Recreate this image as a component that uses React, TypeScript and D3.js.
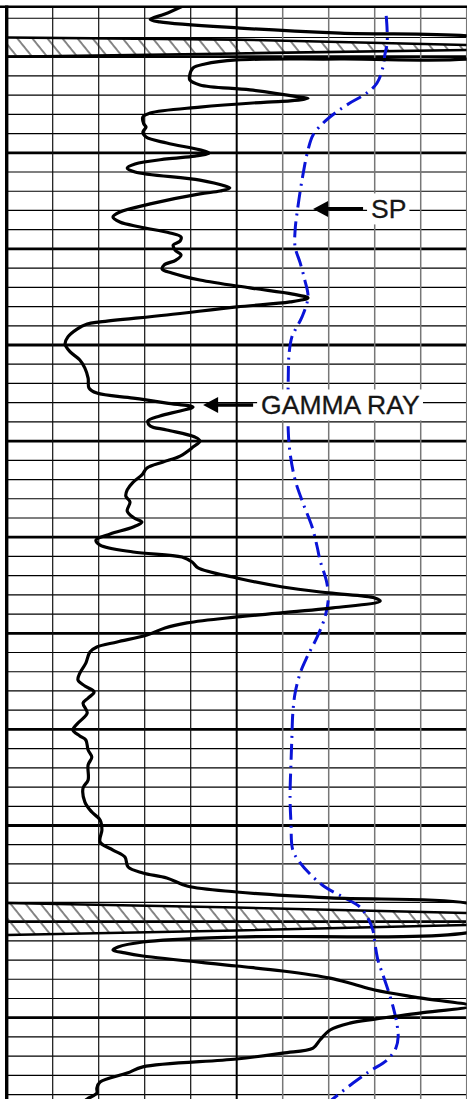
import React from 'react';
import * as d3 from 'd3';

const W = 467;
const H = 1099;

// depth (ft) of grid lines and value grid (0-100 scale, 10 divisions)
const depthTicks = d3.range(4980, 5550, 10);
const valueTicks = d3.range(0, 101, 10);

// Gamma ray curve
const grDepth = [
  4973.6, 4977.8, 4980.6, 4981.9, 4985.1, 4987.7, 4989.8, 4995.0, 5000.7, 5001.2,
  5001.7, 5003.8, 5005.9, 5009.5, 5012.1, 5014.7, 5017.3, 5021.0, 5021.7, 5023.0,
  5023.6, 5026.2, 5029.3, 5031.4, 5035.0, 5036.6, 5039.2, 5041.8, 5044.9, 5048.5,
  5050.1, 5051.7, 5053.2, 5055.8, 5057.9, 5060.0, 5064.2, 5067.3, 5068.3, 5069.9,
  5071.4, 5076.6, 5080.8, 5083.4, 5086.0, 5088.6, 5091.7, 5093.8, 5095.9, 5098.0,
  5100.6, 5103.2, 5105.8, 5108.4, 5110.5, 5112.5, 5116.2, 5120.3, 5123.5, 5125.5,
  5127.6, 5130.2, 5134.4, 5138.0, 5139.1, 5141.7, 5145.8, 5149.5, 5153.6, 5157.8,
  5162.0, 5167.2, 5172.4, 5175.0, 5177.6, 5180.2, 5182.3, 5184.3, 5186.9, 5189.5,
  5192.1, 5194.2, 5197.9, 5199.9, 5203.1, 5207.8, 5210.9, 5214.0, 5217.6, 5221.3,
  5225.4, 5228.6, 5231.7, 5236.4, 5240.0, 5242.1, 5244.7, 5248.3, 5251.5, 5254.1,
  5257.7, 5260.3, 5262.9, 5266.0, 5271.2, 5275.9, 5279.0, 5281.6, 5283.2, 5286.8,
  5291.5, 5294.6, 5297.2, 5300.9, 5304.5, 5307.1, 5309.7, 5315.5, 5320.7, 5324.3,
  5327.4, 5330.5, 5333.7, 5336.3, 5341.5, 5346.7, 5350.3, 5353.4, 5355.5, 5360.7,
  5364.4, 5368.5, 5376.3, 5380.5, 5387.8, 5393.0, 5397.1, 5402.3, 5408.6, 5412.8,
  5416.4, 5421.6, 5424.7, 5427.3, 5431.5, 5434.6, 5437.7, 5440.3, 5448.1, 5455.9,
  5458.0, 5460.6, 5463.2, 5464.8, 5466.3, 5467.9, 5473.1, 5475.7, 5479.4, 5482.5,
  5485.6, 5489.7, 5493.9, 5497.6, 5500.7, 5502.8, 5506.4, 5511.6, 5515.8, 5518.4,
  5521.5, 5525.6, 5528.8, 5533.5, 5536.6, 5539.2, 5542.3, 5545.4,
];
const grValue = [
  38.3, 34.4, 31.2, 33.3, 50.7, 72.5, 102.9, 111.6, 102.9, 72.5,
  50.0, 43.1, 40.5, 39.8, 39.8, 42.0, 52.9, 63.8, 65.5, 61.6,
  56.6, 42.0, 31.2, 29.6, 29.8, 30.3, 29.6, 30.3, 34.8, 42.0,
  44.0, 40.9, 34.8, 27.9, 26.2, 27.9, 42.0, 47.5, 48.5, 46.4,
  42.0, 31.2, 24.6, 23.1, 24.6, 29.0, 35.5, 37.9, 37.7, 36.2,
  36.6, 37.9, 36.8, 34.2, 33.8, 35.9, 42.0, 52.9, 62.2, 65.5,
  61.6, 50.0, 34.8, 20.3, 17.5, 15.3, 13.3, 12.7, 13.8, 15.9,
  17.0, 17.7, 17.9, 19.6, 27.5, 34.8, 40.5, 37.7, 33.3, 30.7,
  31.2, 34.8, 40.9, 42.0, 40.5, 37.7, 34.0, 30.5, 29.4, 27.5,
  26.2, 25.9, 26.8, 26.2, 27.7, 29.4, 27.5, 22.5, 19.4, 20.3,
  27.5, 38.1, 40.3, 41.6, 50.0, 60.0, 70.0, 80.0, 81.2, 70.9,
  50.0, 39.2, 34.4, 30.5, 24.0, 19.6, 18.1, 17.2, 15.9, 15.5,
  17.0, 19.0, 17.7, 16.6, 17.5, 15.5, 14.4, 15.9, 17.2, 17.7,
  18.5, 17.7, 17.7, 16.6, 17.0, 18.5, 20.3, 20.7, 20.3, 23.1,
  25.7, 26.4, 29.6, 34.8, 39.2, 50.0, 70.3, 100.0, 111.6, 100.0,
  50.0, 29.6, 24.2, 23.1, 25.7, 29.6, 50.0, 60.0, 70.3, 75.3,
  80.0, 89.8, 100.7, 89.8, 80.0, 74.6, 70.3, 68.1, 66.6, 60.0,
  50.0, 29.6, 26.2, 20.3, 19.6, 19.6, 17.5, 15.9,
];

// SP curve
const spDepth = [
  4978.8, 4986.1, 4992.9, 4999.1, 5005.4, 5013.7, 5018.9, 5024.1, 5029.3, 5034.5,
  5040.7, 5048.5, 5064.2, 5078.2, 5090.2, 5099.0, 5107.3, 5116.2, 5125.0, 5135.4,
  5142.2, 5145.8, 5154.2, 5168.2, 5194.2, 5206.2, 5220.2, 5232.2, 5244.7, 5255.1,
  5261.9, 5273.8, 5282.7, 5291.5, 5301.9, 5312.3, 5320.7, 5331.1, 5341.5, 5354.0,
  5367.5, 5385.2, 5398.7, 5412.8, 5419.5, 5426.8, 5432.0, 5437.2, 5442.4, 5448.1,
  5454.4, 5462.2, 5470.0, 5477.8, 5485.6, 5494.4, 5502.8, 5510.0, 5515.8, 5522.0,
  5527.7, 5534.0, 5542.3, 5546.0,
];
const spValue = [
  82.5, 82.7, 82.7, 82.2, 81.8, 80.5, 78.3, 74.6, 71.4, 68.8,
  66.6, 65.5, 64.2, 63.3, 62.7, 62.7, 63.8, 64.8, 65.5, 64.2,
  62.7, 62.0, 61.4, 61.2, 61.2, 61.6, 62.7, 64.4, 66.4, 67.5,
  68.1, 69.6, 69.9, 69.2, 67.5, 65.3, 63.8, 62.7, 62.2, 62.0,
  61.8, 61.6, 61.8, 62.2, 63.8, 66.6, 69.2, 73.1, 76.8, 78.5,
  79.6, 80.1, 80.7, 81.8, 82.9, 84.0, 84.8, 85.1, 84.6, 82.7,
  79.0, 75.3, 70.9, 69.2,
];

// Hatched beds: edge depths at values 0, 50, 100
const bedEdgeValues = [0, 50, 100];
const bed1Upper = [4990.0, 4991.1, 4993.9];
const bed1Lower = [5000.0, 4998.3, 4996.5];
const bed2Upper = [5440.3, 5442.7, 5445.5];
const bed2Lower = [5457.0, 5454.6, 5451.8];

// Annotations: arrow tip position
const labelTexts = ['SP', 'GAMMA RAY'];
const labelDepths = [5079.2, 5181.2];
const labelValues = [66.6, 42.7];

export default function App() {
  const ref = React.useRef<SVGSVGElement>(null);

  React.useEffect(() => {
    const svg = d3.select(ref.current);
    svg.selectAll('*').remove();

    const x = d3.scaleLinear().domain([0, 100]).range([6.7, 466.7]);
    const y = d3.scaleLinear().domain([5000, 5500]).range([56.7, 1017.7]);
    const top = 6.7;

    const defs = svg.append('defs');
    defs.append('clipPath').attr('id', 'plotClip')
      .append('rect')
      .attr('x', x(0)).attr('y', top)
      .attr('width', x(100) - x(0)).attr('height', H - top);
    const pat = defs.append('pattern')
      .attr('id', 'hatch')
      .attr('patternUnits', 'userSpaceOnUse')
      .attr('width', 11.7).attr('height', 12)
      .attr('patternTransform', 'rotate(-39)');
    pat.append('line')
      .attr('x1', 1).attr('y1', 0).attr('x2', 1).attr('y2', 12)
      .attr('stroke', '#222').attr('stroke-width', 1.1);

    svg.append('rect').attr('width', W).attr('height', H).attr('fill', '#fff');

    const grid = svg.append('g');
    // horizontal grid lines
    depthTicks.forEach((d) => {
      const major = d % 50 === 0;
      grid.append('line')
        .attr('x1', x(0)).attr('x2', x(100))
        .attr('y1', y(d)).attr('y2', y(d))
        .attr('stroke', '#000')
        .attr('stroke-width', major ? 2.8 : 1.2);
    });
    // vertical grid lines
    valueTicks.forEach((v) => {
      if (v === 0) return;
      const center = v === 50;
      grid.append('line')
        .attr('x1', x(v)).attr('x2', x(v))
        .attr('y1', top).attr('y2', H)
        .attr('stroke', center ? '#000' : v < 50 ? '#111' : '#777')
        .attr('stroke-width', center ? 2 : v < 50 ? 1.2 : 1.5);
    });

    // hatched beds
    const edgeLine = d3.line<number[]>().x((p) => x(p[0])).y((p) => y(p[1]));
    const beds = [
      [bed1Upper, bed1Lower],
      [bed2Upper, bed2Lower],
    ];
    const bedG = svg.append('g').attr('clip-path', 'url(#plotClip)');
    beds.forEach(([upper, lower]) => {
      const up = bedEdgeValues.map((v, i) => [v, upper[i]]);
      const lo = bedEdgeValues.map((v, i) => [v, lower[i]]);
      const poly = up.concat(lo.slice().reverse());
      bedG.append('path')
        .attr('d', edgeLine(poly) + 'Z')
        .attr('fill', 'url(#hatch)')
        .attr('stroke', 'none');
      [up, lo].forEach((edge) => {
        bedG.append('path')
          .attr('d', edgeLine(edge))
          .attr('fill', 'none')
          .attr('stroke', '#000')
          .attr('stroke-width', 2.6);
      });
    });

    const curves = svg.append('g').attr('clip-path', 'url(#plotClip)');
    const idxGR = d3.range(grDepth.length);
    const grLine = d3.line<number>()
      .x((i) => x(grValue[i]))
      .y((i) => y(grDepth[i]))
      .curve(d3.curveCatmullRom.alpha(0.5));
    const idxSP = d3.range(spDepth.length);
    const spLine = d3.line<number>()
      .x((i) => x(spValue[i]))
      .y((i) => y(spDepth[i]))
      .curve(d3.curveCatmullRom.alpha(0.5));

    curves.append('path')
      .attr('d', spLine(idxSP))
      .attr('fill', 'none')
      .attr('stroke', '#0a14d8')
      .attr('stroke-width', 3)
      .attr('stroke-dasharray', '16,6,2,6');

    curves.append('path')
      .attr('d', grLine(idxGR))
      .attr('fill', 'none')
      .attr('stroke', '#000')
      .attr('stroke-width', 3.2)
      .attr('stroke-linejoin', 'round');

    // labels with arrows
    const ann = svg.append('g');
    labelTexts.forEach((t, i) => {
      const tx = x(labelValues[i]);
      const ty = y(labelDepths[i]);
      const textX = tx + 58;
      const base = ty + 9.5;
      const bg = ann.append('rect').attr('fill', '#fff');
      const txt = ann.append('text')
        .attr('x', textX).attr('y', base)
        .attr('font-family', '"Liberation Sans", Arial, sans-serif')
        .attr('font-size', 26.5)
        .attr('fill', '#161616')
        .attr('stroke', '#161616')
        .attr('stroke-width', 0.3)
        .text(t);
      const bb = (txt.node() as SVGTextElement).getBBox();
      bg.attr('x', textX - 4).attr('y', base - 25)
        .attr('width', bb.width + 7).attr('height', 31);
      ann.append('line')
        .attr('x1', tx + 12).attr('x2', tx + 50)
        .attr('y1', ty).attr('y2', ty)
        .attr('stroke', '#000').attr('stroke-width', 3.6);
      ann.append('path')
        .attr('d', `M${tx},${ty}L${tx + 15},${ty - 8}L${tx + 15},${ty + 8}Z`)
        .attr('fill', '#000');
    });

    // borders
    svg.append('line')
      .attr('x1', 0).attr('x2', W)
      .attr('y1', top).attr('y2', top)
      .attr('stroke', '#000').attr('stroke-width', 2.6);
    svg.append('line')
      .attr('x1', x(0)).attr('x2', x(0))
      .attr('y1', top - 1.3).attr('y2', H)
      .attr('stroke', '#000').attr('stroke-width', 3.4);
  }, []);

  return (
    <svg
      ref={ref}
      width={W}
      height={H}
      style={{ position: 'absolute', left: 0, top: 0, display: 'block' }}
    />
  );
}
